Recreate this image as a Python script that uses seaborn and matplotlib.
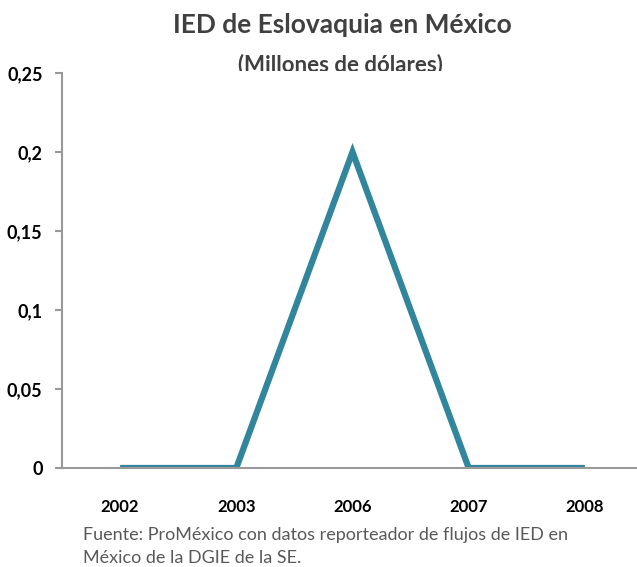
import matplotlib
matplotlib.use('Agg')
import matplotlib.pyplot as plt
import seaborn as sns
import pandas as pd
import numpy as np
from matplotlib.transforms import Bbox

# Datos de la grafica
years = ['2002', '2003', '2006', '2007', '2008']
ied = [0, 0, 0.2, 0, 0]
yticks = [0, 0.05, 0.1, 0.15, 0.2, 0.25]
ytick_labels = ['0', '0,05', '0,1', '0,15', '0,2', '0,25']

df = pd.DataFrame({'year': years, 'ied': ied})

sns.set_style('white')
plt.rcParams['font.family'] = ['Lato', 'DejaVu Sans']

fig = plt.figure(figsize=(6.37, 5.67), dpi=100)
ax = fig.add_axes([62 / 637, 1 - 468 / 567, 581 / 637, 395 / 567])

sns.lineplot(data=df, x='year', y='ied', ax=ax, color='#31859C', linewidth=4.5,
             solid_joinstyle='miter', solid_capstyle='butt')

ax.set_xlim(-0.5, len(years) - 0.5)
ax.set_ylim(0, 0.25)
ax.set_yticks(yticks)
ax.set_yticklabels(ytick_labels, fontsize=13, fontweight='bold', color='black')
ax.set_xticks(range(len(years)))
ax.set_xticklabels(years, fontsize=12, fontweight='bold', color='black')
ax.set_xticks(np.arange(-0.5, len(years), 1), minor=True)
ax.tick_params(axis='x', which='major', length=0, pad=22)
ax.tick_params(axis='x', which='minor', length=7, width=1.5, color='#999999', direction='out')
ax.tick_params(axis='y', length=5, width=1.5, color='#999999', direction='out', pad=9, left=True)
ax.set_xlabel('')
ax.set_ylabel('')

for side in ['top', 'right']:
    ax.spines[side].set_visible(False)
for side in ['left', 'bottom']:
    ax.spines[side].set_color('#999999')
    ax.spines[side].set_linewidth(1.5)

# titulo y subtitulo (el subtitulo queda cortado por el area del grafico)
fig.text(342 / 637, 1 - 25 / 567, 'IED de Eslovaquia en México', ha='center', va='center',
         fontsize=19, fontweight='bold', color='#404040')
sub = fig.text(340 / 637, 1 - 65 / 567, '(Millones de dólares)', ha='center', va='center',
               fontsize=16, fontweight='bold', color='#404040')
sub.set_clip_box(Bbox([[0, 567 - 70.5], [637, 567]]))
sub.set_clip_on(True)

# fuente
fig.text(83 / 637, 1 - 535 / 567, 'Fuente: ProMéxico con datos reporteador de flujos de IED en',
         ha='left', va='center', fontsize=13, color='#595959')
fig.text(83 / 637, 1 - 558 / 567, 'México de la DGIE de la SE.',
         ha='left', va='center', fontsize=13, color='#595959')

fig.savefig('out.png', dpi=100)
